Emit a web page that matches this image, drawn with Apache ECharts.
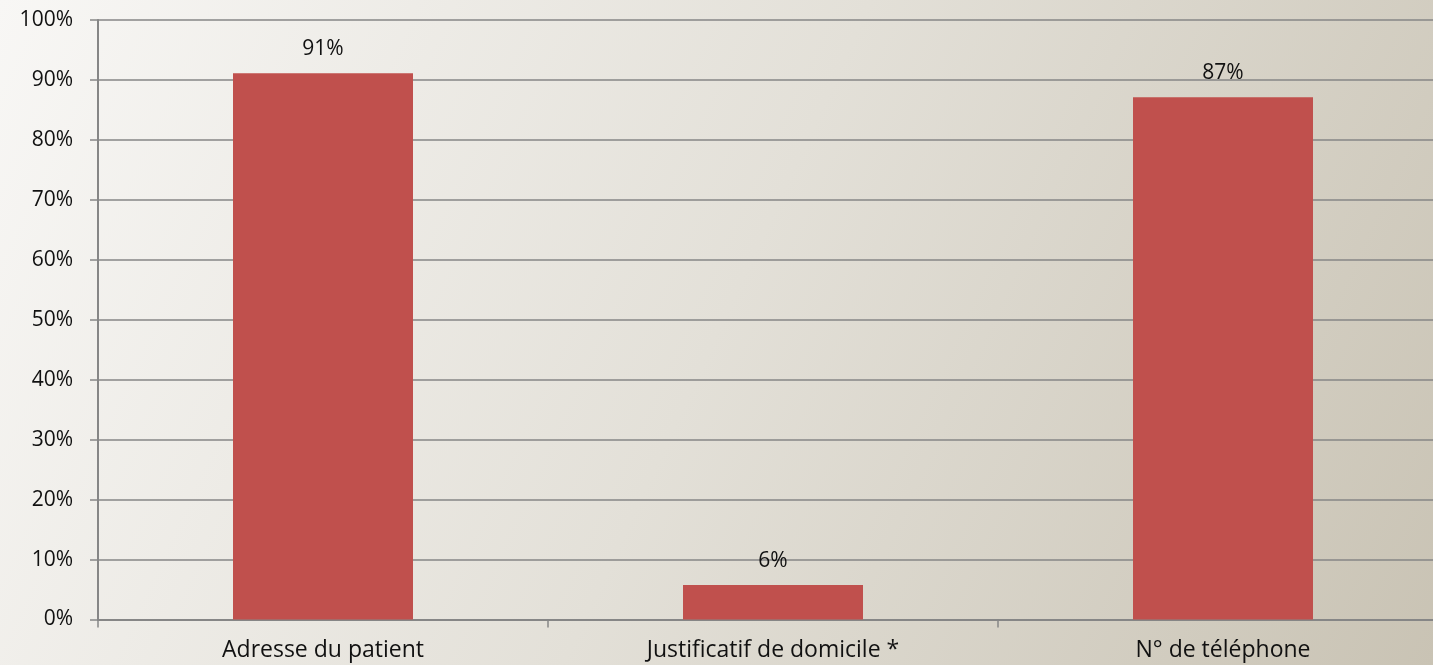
<!DOCTYPE html>
<html><head><meta charset="utf-8">
<script src="https://cdn.jsdelivr.net/npm/echarts@6/dist/echarts.min.js"></script>
<style>html,body{margin:0;padding:0;}#c{width:1433px;height:665px;}</style>
</head><body><div id="c"></div>
<script>
const categories = ["Adresse du patient", "Justificatif de domicile *", "N° de téléphone"];
const values = [91.1, 5.75, 87.1];
const yTicks = [0,10,20,30,40,50,60,70,80,90,100];

const chart = echarts.init(document.getElementById('c'), null, {renderer:'canvas'});
chart.setOption({
  backgroundColor: new echarts.graphic.LinearGradient(0,0,1,1,[
    {offset:0,color:'#f8f7f5'},{offset:0.5,color:'#e3e0d8'},{offset:1,color:'#c9c3b4'}]),
  animation:false,
  grid:{left:98,right:-15,top:20,bottom:45.5,containLabel:false,outerBoundsMode:'none'},
  xAxis:{type:'category',data:categories,
    axisLine:{lineStyle:{color:'#868686',width:2}},
    axisTick:{show:true,length:8,lineStyle:{color:'#868686',width:1.5}},
    axisLabel:{color:'#111',fontSize:23,fontFamily:'Open Sans',margin:19}},
  yAxis:{type:'value',min:0,max:100,interval:10,
    axisLine:{show:true,lineStyle:{color:'#868686',width:2}},
    axisTick:{show:true,length:8,lineStyle:{color:'#868686',width:1.5}},
    splitLine:{lineStyle:{color:'#868686',width:1.5}},
    axisLabel:{color:'#111',fontSize:21,fontFamily:'Open Sans',margin:25,
      formatter:v=>yTicks.includes(v)?v+'%':''}},
  series:[{type:'bar',data:values,barWidth:'40%',
    itemStyle:{color:'#C0504D'},
    label:{show:true,position:'top',distance:14,color:'#111',fontSize:21,fontFamily:'Open Sans',
      formatter:p=>Math.round(p.value)+'%'}}]
});
</script></body></html>
